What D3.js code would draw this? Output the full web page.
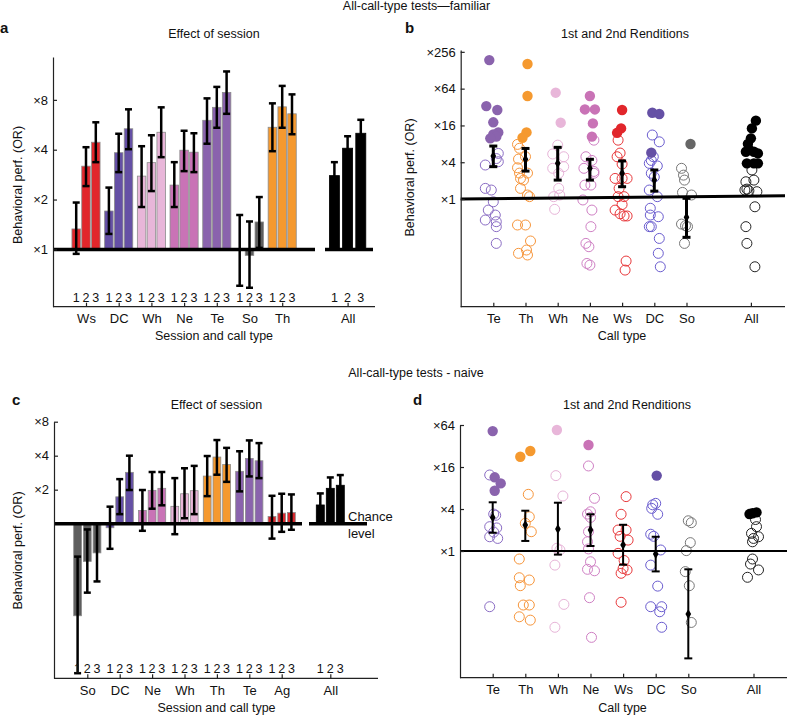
<!DOCTYPE html>
<html>
<head>
<meta charset="utf-8">
<script src="https://cdn.jsdelivr.net/npm/d3@7"></script>
<style>
body { margin: 0; background: #fff; }
svg text { font-family: "Liberation Sans", Arial, Helvetica, sans-serif; fill: #111; }
</style>
</head>
<body>
<svg id="fig" width="787" height="715"></svg>
<script>
// all values are log2(odds ratio)

// panel a: familiar, effect of session (sessions 1,2,3)
var famCats = ["Ws", "DC", "Wh", "Ne", "Te", "So", "Th", "All"];
var famVals = [[0.41, 1.67, 2.15], [0.77, 1.94, 2.42], [1.47, 1.74, 2.35], [1.29, 1.99, 1.95],
               [2.59, 2.85, 3.15], [0.0, -0.12, 0.55], [2.45, 2.86, 2.72], [1.48, 2.03, 2.33]];
var famLo = [[-0.09, 1.27, 1.75], [0.31, 1.55, 2.01], [0.85, 1.17, 1.85], [0.85, 1.57, 1.55],
             [2.12, 2.44, 2.72], [-0.73, -0.77, 0.03], [1.97, 2.44, 2.31], [1.1, 1.7, 2.0]];
var famHi = [[0.94, 2.05, 2.55], [1.24, 2.32, 2.81], [2.07, 2.29, 2.85], [1.75, 2.38, 2.33],
             [3.03, 3.26, 3.57], [0.69, 0.56, 1.05], [2.93, 3.28, 3.11], [1.75, 2.27, 2.6]];

// panel c: naive, effect of session
var naiCats = ["So", "DC", "Ne", "Wh", "Th", "Te", "Ag", "All"];
var naiVals = [[-2.71, -1.11, -0.86], [-0.12, 0.79, 1.51], [0.39, 0.98, 1.04], [0.51, 0.88, 0.97],
               [1.4, 1.96, 1.74], [1.54, 1.92, 1.85], [0.21, 0.31, 0.33], [0.55, 1.04, 1.13]];
var naiLo = [[-4.4, -2.03, -1.7], [-0.74, 0.28, 0.99], [-0.21, 0.44, 0.54], [-0.31, 0.16, 0.28],
             [0.81, 1.44, 1.23], [0.95, 1.39, 1.34], [-0.44, -0.24, -0.18], [0.2, 0.72, 0.83]];
var naiHi = [[-0.97, -0.17, 0.0], [0.5, 1.31, 2.0], [0.99, 1.52, 1.52], [1.34, 1.63, 1.7],
             [1.99, 2.46, 2.23], [2.13, 2.45, 2.37], [0.82, 0.88, 0.86], [0.89, 1.36, 1.43]];

// panels b and d: one point per bird, [log2 OR, jitter]; filled = significant
var rendCats = ["Te", "Th", "Wh", "Ne", "Ws", "DC", "So", "All"];

var bFilled = [
  [[7.55, -4], [5.05, -7], [4.84, 4], [4.17, 0], [3.62, 5], [3.51, 0], [3.39, 3], [3.3, -3]],
  [[7.34, 2], [5.6, 2], [3.62, 1], [3.33, -3]],
  [[5.78, -2], [4.15, 3]],
  [[5.6, 0], [4.87, -5], [4.87, 5], [4.11, 3], [3.39, 2]],
  [[4.84, 0], [3.84, -1], [3.6, -5]],
  [[4.69, -2], [4.62, 5], [2.52, -3]],
  [[2.99, 4]],
  [[4.26, 5], [3.84, 1], [3.3, 0], [3.0, -3], [2.7, -2], [2.57, -5], [2.57, 3], [2.48, 7], [1.94, -4], [1.94, 3], [1.94, 7]]
];
var bOpen = [
  [[2.48, 5], [2.2, 3], [2.03, 5], [1.85, -8], [0.58, -8], [0.49, -2], [-0.15, 0], [-0.6, -5], [-0.87, 2], [-1.14, -8], [-1.23, 3], [-1.5, 3], [-2.41, 3]],
  [[2.97, -8], [2.76, -6], [2.3, 0], [2.17, -7], [1.7, -8], [1.41, -6], [1.41, 2], [1.12, -5], [1.03, -2], [0.58, -5], [0.22, 2], [0.13, 4], [-1.41, -8], [-1.41, 0], [-2.28, 5], [-2.77, 1], [-2.95, -7], [-3.04, 2]],
  [[2.93, 0], [2.45, -5], [2.3, 6], [1.76, 6], [1.67, -5], [1.4, 1], [0.58, 1], [0.22, 2], [0.13, -4], [-0.56, -3]],
  [[3.2, 4], [2.3, -4], [2.1, 2], [1.67, -6], [1.5, 4], [1.4, 4], [0.76, -5], [0.76, 1], [-0.05, -7], [-0.6, 2], [-1.5, 1], [-2.41, -4], [-2.59, -1], [-3.5, -3], [-3.59, 0]],
  [[3.2, -4], [2.5, -2], [2.3, -5], [1.9, 0], [1.12, -7], [1.12, 0], [1.12, 5], [0.58, -3], [0.13, -4], [0.13, 2], [-0.3, 0], [-0.6, -7], [-0.8, -2], [-0.92, 5], [-0.92, 2], [-3.37, 4], [-3.86, 3]],
  [[3.48, -2], [3.11, 5], [2.3, -1], [2.1, -3], [1.94, -5], [1.8, 3], [1.4, -3], [1.2, 0], [0.49, -5], [0.13, 3], [-0.5, -4], [-0.87, -4], [-0.96, 4], [-1.5, -3], [-1.5, -5], [-2.14, 5], [-2.95, 4], [-3.68, 6]],
  [[1.67, -5], [1.3, -3], [1.03, -2], [0.36, -4], [0.22, 5], [-1.36, -5], [-1.45, -1], [-1.5, 1], [-2.41, -2]],
  [[1.58, 1], [1.03, 3], [0.94, -5], [0.54, -4], [0.49, -6], [0.45, -2], [0.4, 6], [-0.42, 4], [-1.5, -5], [-2.41, -4], [-3.68, 4]]
];
var bMean = [2.34, 2.16, 1.94, 1.67, 1.4, 1.03, -0.99];
var bLo = [1.76, 1.52, 1.03, 1.03, 0.67, 0.43, -2.08];
var bHi = [2.88, 2.75, 2.81, 2.16, 2.07, 1.58, 0.04];
var bChance = [0, 0.18];

var dFilled = [
  [[5.71, 0], [3.51, 2], [3.22, 8], [2.87, 2]],
  [[4.49, -5], [4.76, 5]],
  [[5.76, -1]],
  [[5.05, -2]],
  [],
  [[3.59, 1]],
  [],
  [[1.76, -4], [1.84, 3], [1.8, -1]]
];
var dOpen = [
  [[3.62, -3], [1.76, 1], [1.7, 3], [1.16, -3], [1.1, 4], [0.9, 1], [0.68, -3], [0.6, 5], [-2.65, -3]],
  [[2.7, 3], [1.63, 4], [1.32, 0], [0.92, 6], [-0.38, -6], [-1.27, -6], [-1.38, 4], [-1.65, -5], [-2.57, -2], [-2.57, 4], [-3.13, -6], [-3.29, 5]],
  [[3.59, -2], [2.62, 5], [0.13, -1], [0.05, 2], [-0.67, -3], [-2.54, 6], [-3.63, -3]],
  [[4.05, -2], [2.51, 4], [1.87, 0], [1.76, -3], [1.6, 0], [0.92, -2], [0.44, -3], [0.1, -2], [-0.51, 0], [-0.87, -3], [-0.94, 4], [-2.22, -1], [-4.11, 1]],
  [[2.59, 3], [1.75, -2], [1.0, -5], [1.0, 3], [0.7, -3], [0.52, 5], [-0.11, -5], [-0.45, 1], [-0.83, 0], [-0.9, 4], [-1.06, -2], [-2.44, -2]],
  [[2.27, 0], [2.2, -3], [2.03, -4], [1.75, 2], [0.8, -5], [0.7, -2], [0.05, 5], [-0.67, -5], [-1.67, 2], [-2.65, -5], [-2.65, 6], [-2.89, 4], [-3.63, 6]],
  [[1.44, 0], [1.35, 3], [0.4, 2], [0.02, -2], [-0.98, -3], [-1.65, 1], [-3.4, 3]],
  [[1.5, 2], [1.16, 3], [0.84, -2], [0.68, 5], [0.6, 0], [0.44, -1], [-0.38, -1], [-0.62, -3], [-0.9, 5], [-1.25, -6]]
];
var dMean = [1.6, 1.24, 1.05, 1.0, 0.29, -0.14, -3.0];
var dLo = [0.87, 0.48, -0.17, 0.24, -0.65, -0.97, -5.11];
var dHi = [2.32, 1.92, 2.3, 1.75, 1.25, 0.68, -0.87];
var dChance = [0, 0];

// tick labels
var ticksA = [0, 1, 2, 3];
var labelsA = ["\u00d71", "\u00d72", "\u00d74", "\u00d78"];
var ticksC = [1, 2, 3];
var labelsC = ["\u00d72", "\u00d74", "\u00d78"];
var ticksB = [0, 2, 4, 6, 8];
var labelsB = ["\u00d71", "\u00d74", "\u00d716", "\u00d764", "\u00d7256"];
var ticksD = [0, 2, 4, 6];
var labelsD = ["\u00d71", "\u00d74", "\u00d716", "\u00d764"];

var fillCol = { Ws: "#e1262b", DC: "#6550a5", Wh: "#e8b6d9", Ne: "#c973b6", Te: "#8a63ad",
                So: "#5e5e5e", Th: "#f5992f", Ag: "#d9262b", All: "#000" };
var openCol = { Ws: "#e8383b", DC: "#6a5ccf", Wh: "#e7b4d8", Ne: "#cf80c4", Te: "#8a6cc4",
                So: "#777", Th: "#f7953a", All: "#222" };

var svg = d3.select("#fig");

function text(x, y, s, size, anchor, weight) {
  return svg.append("text").attr("x", x).attr("y", y).text(s)
    .attr("font-size", size).attr("text-anchor", anchor || "middle")
    .attr("font-weight", weight || "normal");
}

function yLabel(x, y, s) {
  svg.append("text").attr("transform", "translate(" + x + "," + y + ") rotate(-90)")
    .attr("text-anchor", "middle").attr("font-size", 12.5).text(s);
}

function leftAxis(y, x0, ticks, labels) {
  var ax = svg.append("g").attr("transform", "translate(" + x0 + ",0)")
    .call(d3.axisLeft(y).tickValues(ticks)
      .tickFormat(function(d, i) { return labels[i]; })
      .tickSizeInner(-4).tickSizeOuter(0).tickPadding(5));
  ax.selectAll("text").attr("font-size", 13).attr("fill", "#111");
  ax.selectAll("path,line").attr("stroke", "#222").attr("stroke-width", 1.2);
}

function bottomAxis(x, pos, cats, y0, x0, x1) {
  svg.append("line").attr("x1", x0).attr("x2", x1).attr("y1", y0).attr("y2", y0)
    .attr("stroke", "#222").attr("stroke-width", 1.2);
  var ax = svg.append("g").attr("transform", "translate(0," + y0 + ")")
    .call(d3.axisBottom(x).tickValues(pos)
      .tickFormat(function(d, i) { return cats[i]; })
      .tickSizeInner(-4).tickSizeOuter(0).tickPadding(7));
  ax.select(".domain").remove();
  ax.selectAll("text").attr("font-size", 13).attr("fill", "#111");
  ax.selectAll("line").attr("stroke", "#222").attr("stroke-width", 1.2);
}

function errBar(g, x, y1, y2, cap, w) {
  g.append("line").attr("x1", x).attr("x2", x).attr("y1", y1).attr("y2", y2)
    .attr("stroke", "#000").attr("stroke-width", w);
  [y1, y2].forEach(function(yy) {
    g.append("line").attr("x1", x - cap / 2).attr("x2", x + cap / 2).attr("y1", yy).attr("y2", yy)
      .attr("stroke", "#000").attr("stroke-width", w);
  });
}

// bar panels (a, c)
function drawBars(cfg) {
  var g = svg.append("g");
  var y = d3.scaleLinear().domain(cfg.yDom).range([cfg.bottom, cfg.top]);
  var x = d3.scaleLinear().domain([0, 1]).range([cfg.x0, cfg.x0 + cfg.step]);
  var pos = cfg.cats.map(function(c, i) { return c === "All" ? cfg.allPos : i; });

  cfg.cats.forEach(function(c, i) {
    var isAll = c === "All";
    var cx = x(pos[i]);
    var off = isAll ? cfg.allOff : cfg.barOff;
    var w = isAll ? cfg.allW : cfg.barW;
    cfg.vals[i].forEach(function(v, j) {
      var bx = cx + off * (j - 1);
      g.append("rect").attr("x", bx - w / 2).attr("y", Math.min(y(v), y(0)))
        .attr("width", w).attr("height", Math.abs(y(v) - y(0)))
        .attr("fill", fillCol[c]).attr("stroke", isAll ? "#000" : "#8c8c8c").attr("stroke-width", 0.8);
      errBar(g, bx, y(cfg.hi[i][j]), y(cfg.lo[i][j]), 7, 2.5);
      text(bx, cfg.numY, j + 1, 12.5);
    });
  });

  cfg.baseSegs.forEach(function(s) {
    g.append("line").attr("x1", s[0]).attr("x2", s[1]).attr("y1", y(0)).attr("y2", y(0))
      .attr("stroke", "#000").attr("stroke-width", 3.5);
  });

  leftAxis(y, cfg.axisX, cfg.ticks, cfg.labels);
  bottomAxis(x, pos, cfg.cats, cfg.bottom, cfg.axisX, cfg.xRight);
}

// scatter panels (b, d)
function drawDots(cfg) {
  var g = svg.append("g");
  var y = d3.scaleLinear().domain(cfg.yDom).range([cfg.bottom, cfg.top]);
  var x = d3.scaleLinear().domain([0, 1]).range([cfg.x0, cfg.x0 + cfg.step]);
  var pos = rendCats.map(function(c, i) { return c === "All" ? cfg.allPos : i; });

  rendCats.forEach(function(c, i) {
    var cx = x(pos[i]);
    cfg.open[i].forEach(function(p) {
      g.append("circle").attr("cx", cx + p[1]).attr("cy", y(p[0])).attr("r", 5)
        .attr("fill", "none").attr("stroke", openCol[c]).attr("stroke-width", 1);
    });
    cfg.filled[i].forEach(function(p) {
      g.append("circle").attr("cx", cx + p[1]).attr("cy", y(p[0])).attr("r", 5.2)
        .attr("fill", c === "So" ? "#666" : fillCol[c]);
    });
  });

  g.append("line").attr("x1", cfg.axisX).attr("x2", cfg.xRight)
    .attr("y1", y(cfg.chance[0])).attr("y2", y(cfg.chance[1]))
    .attr("stroke", "#000").attr("stroke-width", cfg.lineW);

  cfg.mean.forEach(function(m, i) {
    var cx = x(pos[i]);
    errBar(g, cx, y(cfg.hi[i]), y(cfg.lo[i]), 8, cfg.errW);
    g.append("path").attr("transform", "translate(" + cx + "," + y(m) + ")")
      .attr("d", d3.symbol(d3.symbolDiamond).size(28)).attr("fill", "#000");
  });

  leftAxis(y, cfg.axisX, cfg.ticks, cfg.labels);
  bottomAxis(x, pos, rendCats, cfg.bottom, cfg.axisX, cfg.xRight);
}

drawBars({
  cats: famCats, vals: famVals, lo: famLo, hi: famHi,
  yDom: [-1.15, 3.86], bottom: 306.7, top: 57,
  x0: 86, step: 32.7, allPos: 8,
  barOff: 9.8, barW: 8.5, allOff: 13.2, allW: 10,
  axisX: 53, xRight: 375, numY: 301.7,
  baseSegs: [[53, 315], [325, 373]],
  ticks: ticksA, labels: labelsA
});

drawBars({
  cats: naiCats, vals: naiVals, lo: naiLo, hi: naiHi,
  yDom: [-4.55, 3], bottom: 678.3, top: 421.7,
  x0: 87.3, step: 32.4, allPos: 7.5,
  barOff: 9.7, barW: 7.8, allOff: 10, allW: 8,
  axisX: 54, xRight: 378, numY: 673,
  baseSegs: [[54, 302], [309, 367]],
  ticks: ticksC, labels: labelsC
});

drawDots({
  filled: bFilled, open: bOpen, mean: bMean, lo: bLo, hi: bHi, chance: bChance,
  yDom: [-5.85, 8.1], bottom: 306.7, top: 50,
  x0: 493.3, step: 32.2, allPos: 8,
  axisX: 460.7, xRight: 785, lineW: 3, errW: 3,
  ticks: ticksB, labels: labelsB
});

drawDots({
  filled: dFilled, open: dOpen, mean: dMean, lo: dLo, hi: dHi, chance: dChance,
  yDom: [-6.03, 6], bottom: 677.7, top: 425,
  x0: 492.7, step: 32.6, allPos: 8,
  axisX: 460, xRight: 787, lineW: 2, errW: 2,
  ticks: ticksD, labels: labelsD
});

// titles and labels
text(416.5, 10, "All-call-type tests\u2014familiar", 12.5);
text(416, 377, "All-call-type tests - naive", 12.5);
text(0, 33, "a", 15, "start", "bold");
text(405, 33, "b", 15, "start", "bold");
text(12, 405, "c", 15, "start", "bold");
text(413, 405, "d", 15, "start", "bold");
text(214, 37.5, "Effect of session", 12.5);
text(625, 37.5, "1st and 2nd Renditions", 12.5);
text(216.5, 409, "Effect of session", 12.5);
text(627, 409, "1st and 2nd Renditions", 12.5);
text(214, 340, "Session and call type", 12.5);
text(622, 340, "Call type", 12.5);
text(216.5, 711.5, "Session and call type", 12.5);
text(622.5, 711.5, "Call type", 12.5);
text(348, 521, "Chance", 13, "start");
text(348, 537.5, "level", 13, "start");
yLabel(21.5, 185, "Behavioral perf. (OR)");
yLabel(413.5, 177.5, "Behavioral perf. (OR)");
yLabel(22, 550.5, "Behavioral perf. (OR)");
</script>
</body>
</html>
